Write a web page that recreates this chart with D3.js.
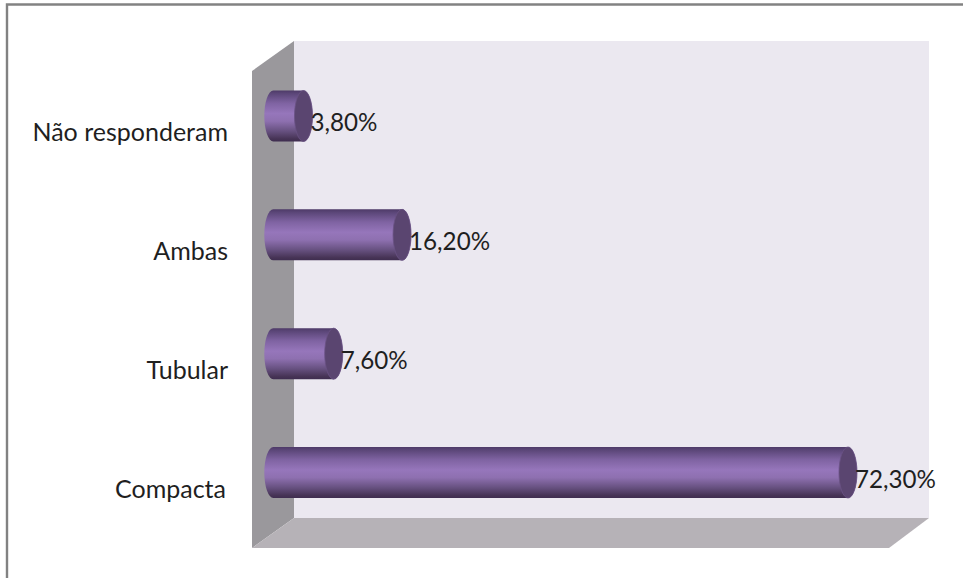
<!DOCTYPE html>
<html>
<head>
<meta charset="utf-8">
<script src="https://cdn.jsdelivr.net/npm/d3@7"></script>
<style>
  html, body { margin: 0; padding: 0; background: #fff; }
  svg { display: block; }
  text { font-family: Lato, "Open Sans", sans-serif; fill: #1f1f1f; }
</style>
</head>
<body>
<svg id="chart" width="963" height="578"></svg>
<script>
const categories = ["Compacta", "Tubular", "Ambas", "Não responderam"];
const values = [72.3, 7.6, 16.2, 3.8];
const valueLabels = ["72,30%", "7,60%", "16,20%", "3,80%"];

const svg = d3.select("#chart");
const width = 963, height = 578;

// Plot box: back wall corners and the depth offset of the 3D projection
const wall = { left: 294, right: 929, top: 41, bottom: 518 };
const depth = { dx: 42, dy: 30 };
const capRx = 9;
const barHeight = 51;

const x = d3.scaleLinear().domain([0, 72.3]).range([273.3, 848]);
const y = d3.scalePoint().domain(categories).range([472.5, 116]);

// Outer chart frame: only the top and left edges are visible
svg.append("path")
  .attr("d", d3.line()([[7, height], [7, 4.5], [width, 4.5]]))
  .attr("fill", "none")
  .attr("stroke", "#828282")
  .attr("stroke-width", 2.4);

// Gradient running across each cylinder
const defs = svg.append("defs");
const grad = defs.append("linearGradient")
  .attr("id", "tube").attr("x1", 0).attr("y1", 0).attr("x2", 0).attr("y2", 1);
[[0, "#4e3a68"], [0.06, "#5b4678"], [0.25, "#7f63a2"], [0.45, "#9676bb"],
 [0.6, "#8e70b0"], [0.8, "#66507f"], [0.95, "#463355"], [1, "#3f2d50"]]
  .forEach(([o, c]) => grad.append("stop").attr("offset", o).attr("stop-color", c));

// Walls of the 3D box
svg.append("polygon")
  .attr("points", [[wall.left, wall.top], [wall.right, wall.top], [wall.right, wall.bottom], [wall.left, wall.bottom]].join(" "))
  .attr("fill", "#ebe8f0");
svg.append("polygon")
  .attr("points", [[wall.left - depth.dx, wall.top + depth.dy], [wall.left, wall.top], [wall.left, wall.bottom], [wall.left - depth.dx, wall.bottom + depth.dy]].join(" "))
  .attr("fill", "#9a989c");
svg.append("polygon")
  .attr("points", [[wall.left - depth.dx, wall.bottom + depth.dy], [wall.left, wall.bottom], [wall.right, wall.bottom], [wall.right - depth.dx + 2, wall.bottom + depth.dy]].join(" "))
  .attr("fill", "#b6b2b7");

// Cylinders: body with a rounded left end, then a darker end cap at the value
const bars = svg.append("g").selectAll("g")
  .data(categories.map((c, i) => ({ c, v: values[i], label: valueLabels[i] })))
  .join("g");

bars.append("path")
  .attr("fill", "url(#tube)")
  .attr("d", d => {
    const x0 = x(0), x1 = x(d.v), t = y(d.c) - barHeight / 2, b = t + barHeight;
    const ry = barHeight / 2;
    return `M${x0},${t} L${x1},${t} A${capRx},${ry} 0 0 1 ${x1},${b} L${x0},${b} A${capRx},${ry} 0 0 1 ${x0},${t} Z`;
  });

bars.append("ellipse")
  .attr("cx", d => x(d.v))
  .attr("cy", d => y(d.c))
  .attr("rx", capRx)
  .attr("ry", barHeight / 2)
  .attr("fill", "#5a4570")
  .attr("stroke", "#6a5284")
  .attr("stroke-width", 0.8);

// Value labels sit just past the end cap
bars.append("text")
  .attr("x", d => x(d.v) + capRx - 2)
  .attr("y", d => y(d.c) + 7)
  .attr("dy", "0.35em")
  .attr("font-size", 24.2)
  .text(d => d.label);

// Category labels, right-aligned against the side wall
svg.append("g").selectAll("text")
  .data(categories)
  .join("text")
  .attr("x", c => c === "Compacta" ? 226 : 228)
  .attr("y", c => y(c) + 16.5)
  .attr("dy", "0.35em")
  .attr("text-anchor", "end")
  .attr("font-size", 25)
  .text(c => c);
</script>
</body>
</html>
